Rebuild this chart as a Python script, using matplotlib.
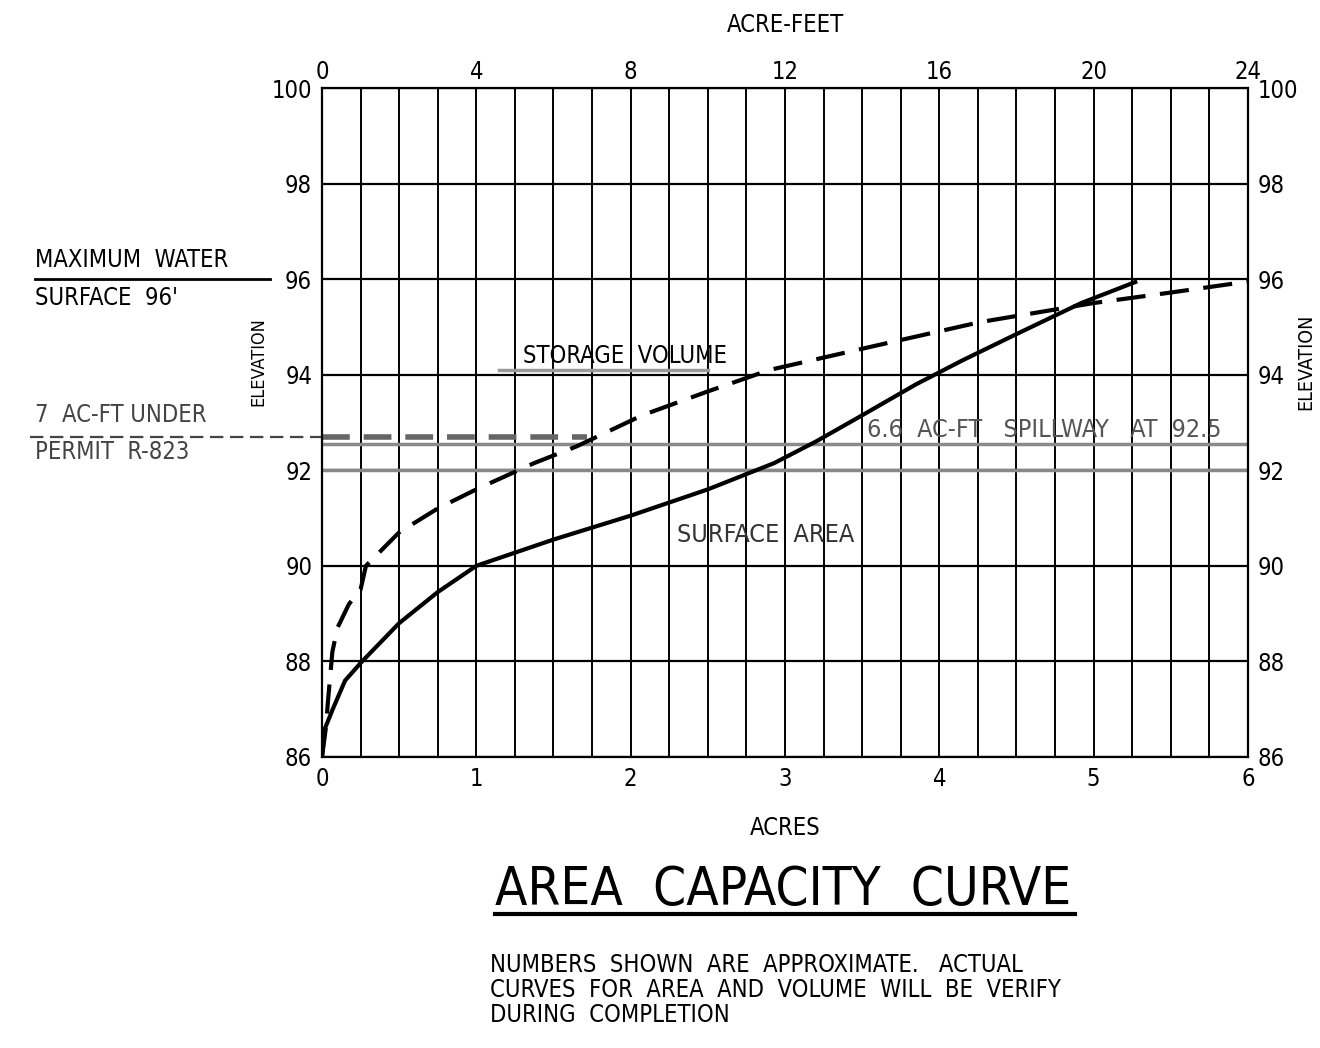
import numpy as np
import matplotlib
matplotlib.use('Agg')
import matplotlib.pyplot as plt
from matplotlib.ticker import MultipleLocator
from matplotlib.transforms import blended_transform_factory


plt.rcParams['font.family'] = ['DejaVu Sans']
plt.rcParams['font.stretch'] = 'condensed'

# surface area curve (acres vs elevation)
area_acres = [0.0, 0.02, 0.07, 0.15, 0.26, 0.5, 0.75, 1.0, 1.5, 2.0, 2.5,
              2.93, 3.2, 3.5, 3.85, 4.15, 4.5, 4.92, 5.27]
area_elev = [86.0, 86.6, 87.0, 87.6, 88.0, 88.8, 89.45, 90.0, 90.55, 91.05,
             91.6, 92.15, 92.6, 93.15, 93.8, 94.3, 94.85, 95.5, 95.94]

# storage volume curve (acre-feet vs elevation)
vol_af = [0.0, 0.1, 0.16, 0.27, 0.4, 0.7, 1.0, 1.14, 2.0, 3.0, 4.0, 5.5,
          6.6, 8.3, 10.0, 11.6, 14.2, 17.05, 20.0, 22.0, 24.0]
vol_elev = [86.0, 86.6, 87.2, 88.2, 88.7, 89.2, 89.5, 90.0, 90.7, 91.2,
            91.6, 92.15, 92.5, 93.15, 93.65, 94.1, 94.58, 95.1, 95.5, 95.72,
            95.95]

acres_ticks = [0, 1, 2, 3, 4, 5, 6]
acft_ticks = [0, 4, 8, 12, 16, 20, 24]
elev_ticks = [86, 88, 90, 92, 94, 96, 98, 100]

max_water = 96
permit_elev = 92.7
spillway_elev = 92.5

fig = plt.figure(figsize=(13.2, 10.48), dpi=100)
ax = fig.add_axes([0.2439, 0.2777, 0.7015, 0.6383])
ax.set_xlim(0, 6)
ax.set_ylim(86, 100)

ax.xaxis.set_major_locator(MultipleLocator(1))
ax.xaxis.set_minor_locator(MultipleLocator(0.25))
ax.set_yticks(elev_ticks)
ax.grid(which='both', axis='x', color='black', lw=1.4)
ax.grid(which='major', axis='y', color='black', lw=1.6)
ax.set_axisbelow(True)
ax.tick_params(which='both', length=0, labelsize=17, pad=7,
               labelright=True, right=False)
ax.set_xticks(acres_ticks)
for sp in ax.spines.values():
    sp.set_linewidth(1.6)

# gray overlays from the drawing
ax.axhline(92, color='#888888', lw=2.5, zorder=1.5)
ax.axhline(spillway_elev + 0.05, color='#8a8a8a', lw=2.5, zorder=1.5)
ax.plot([1.15, 2.5], [94.1, 94.1], color='#999999', lw=2.5, zorder=1.5)

ax.plot(area_acres, area_elev, color='black', lw=3, zorder=3)

ax2 = ax.twiny()
ax2.set_xlim(0, 24)
ax2.set_xticks(acft_ticks)
ax2.tick_params(length=0, labelsize=17, pad=3)
for sp in ax2.spines.values():
    sp.set_visible(False)
ax2.plot(vol_af, vol_elev, color='black', lw=3, dashes=(7, 3.5), zorder=3)

ax.set_xlabel('ACRES', fontsize=17, labelpad=18)
ax2.set_xlabel('ACRE-FEET', fontsize=17, labelpad=20)

fig.text(258 / 1320, 1 - 362 / 1048, 'ELEVATION', rotation=90,
         fontsize=13, ha='center', va='center')
fig.text(1306 / 1320, 1 - 362 / 1048, 'ELEVATION', rotation=90,
         fontsize=14, ha='center', va='center')

tr = blended_transform_factory(fig.transFigure, ax.transData)
ax.plot([35 / 1320, 270 / 1320], [max_water, max_water], color='black',
        lw=2, transform=tr, clip_on=False)
fig.text(35 / 1320, 1 - 260 / 1048, 'MAXIMUM  WATER', fontsize=17,
         va='center')
fig.text(35 / 1320, 1 - 298 / 1048, "SURFACE  96'", fontsize=17,
         va='center')

ax.plot([30 / 1320, 322 / 1320], [permit_elev, permit_elev], color='#444444',
        lw=1.6, dashes=(6, 3), transform=tr, clip_on=False)
ax.plot([0, 1.72], [permit_elev, permit_elev], color='#666666', lw=4,
        dashes=(5, 2.5), zorder=2)
fig.text(35 / 1320, 1 - 415 / 1048, '7  AC-FT UNDER', fontsize=17,
         va='center', color='#444444')
fig.text(35 / 1320, 1 - 452 / 1048, 'PERMIT  R-823', fontsize=17,
         va='center', color='#444444')

ax.text(1.3, 94.4, 'STORAGE  VOLUME', fontsize=17, va='center')
ax.text(3.53, 92.85, '6.6  AC-FT   SPILLWAY   AT  92.5', fontsize=18,
        va='center', color='#555555')
ax.text(2.3, 90.65, 'SURFACE  AREA', fontsize=18, va='center',
        color='#333333')

fig.text(495 / 1320, 1 - 890 / 1048, 'AREA  CAPACITY  CURVE', fontsize=38,
         va='center')
fig.add_artist(plt.Line2D([495 / 1320, 1075 / 1320],
                          [1 - 914 / 1048, 1 - 914 / 1048],
                          color='black', lw=3))
fig.text(490 / 1320, 1 - 990 / 1048,
         'NUMBERS  SHOWN  ARE  APPROXIMATE.   ACTUAL\n'
         'CURVES  FOR  AREA  AND  VOLUME  WILL  BE  VERIFY\n'
         'DURING  COMPLETION',
         fontsize=17, va='center', linespacing=1.05)

fig.savefig('out.png', dpi=100)
